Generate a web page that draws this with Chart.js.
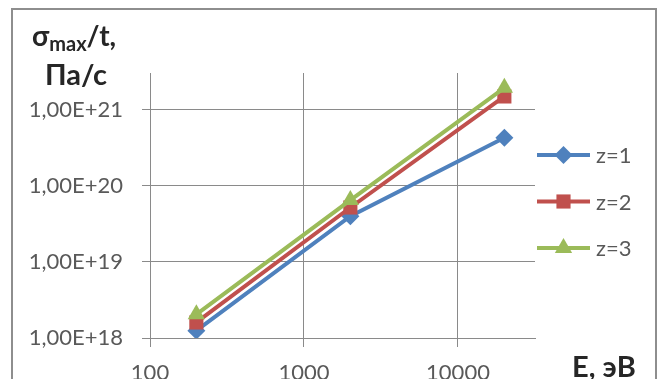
<!DOCTYPE html>
<html>
<head>
<meta charset="utf-8">
<script src="https://cdn.jsdelivr.net/npm/chart.js@4.4.1/dist/chart.umd.min.js"></script>
<style>
  html, body { margin: 0; padding: 0; background: #fff; }
  #wrap { position: relative; width: 662px; height: 379px; overflow: hidden; }
  #c { position: absolute; left: 0; top: 0; }
  .ttl { position: absolute; font-family: Lato, sans-serif; font-weight: bold; color: #262626; white-space: nowrap; line-height: 1; }
  .ttl sub { font-size: 20px; vertical-align: -5px; line-height: 1; }
</style>
</head>
<body>
<div id="wrap">
  <canvas id="c" width="662" height="379"></canvas>
  <div class="ttl" id="yt1" style="left:32px; top:21px; font-size:28px;">σ<sub>max</sub>/t,</div>
  <div class="ttl" id="yt2" style="left:45px; top:59px; font-size:29px;">Па/с</div>
  <div class="ttl" id="xt" style="left:572px; top:351px; font-size:29px;">E, эВ</div>
</div>
<script>
// Ion energy, eV
const energies = [200, 2000, 20000];
// Stress growth rate sigma_max / t, Pa/s, for each ion charge
const z1 = [1.25e18, 4.0e19, 4.3e20];
const z2 = [1.6e18, 5.2e19, 1.5e21];
const z3 = [2.05e18, 6.5e19, 1.95e21];
const seriesNames = ['z=1', 'z=2', 'z=3'];
// Axis ticks
const xTickValues = [100, 1000, 10000];
const yTickValues = [1e18, 1e19, 1e20, 1e21];

const colors = ['#4F81BD', '#C0504D', '#9BBB59'];
const styles = ['rectRot', 'rect', 'triangle'];
const radii = [9, 10, 10];
const gridColor = '#8a8a8a';
const labelColor = '#595959';
const labelFont = { family: 'Lato, sans-serif', size: 22 };

function fmtExp(v) {
  return Number(v).toExponential(2).replace('.', ',').replace('e+', 'E+');
}

const datasets = [z1, z2, z3].map((vals, i) => ({
  label: seriesNames[i],
  data: energies.map((e, k) => ({ x: e, y: vals[k] })),
  borderColor: colors[i],
  backgroundColor: colors[i],
  borderWidth: 4,
  pointStyle: styles[i],
  pointRadius: radii[i],
  pointBorderWidth: 0,
  pointHoverRadius: radii[i],
  tension: 0,
  order: 3 - i
}));

// Outer frame of the chart
const framePlugin = {
  id: 'frame',
  beforeDraw(chart) {
    const ctx = chart.ctx;
    ctx.save();
    ctx.strokeStyle = '#8e8e8e';
    ctx.lineWidth = 2;
    ctx.strokeRect(12, 9, 644, 420);
    ctx.restore();
  }
};

// Legend: line sample with marker, then the series name
const legendPlugin = {
  id: 'lineLegend',
  afterDraw(chart) {
    const ctx = chart.ctx;
    ctx.save();
    chart.data.datasets.forEach((ds, i) => {
      const y = 155 + i * 46.5;
      ctx.strokeStyle = ds.borderColor;
      ctx.lineWidth = 4;
      ctx.beginPath();
      ctx.moveTo(537, y);
      ctx.lineTo(590, y);
      ctx.stroke();
      ctx.fillStyle = ds.backgroundColor;
      Chart.helpers.drawPoint(ctx, { pointStyle: ds.pointStyle, radius: ds.pointRadius, rotation: 0, borderWidth: 0 }, 563.5, y);
      ctx.fillStyle = labelColor;
      ctx.font = '22px Lato, sans-serif';
      ctx.textBaseline = 'middle';
      ctx.textAlign = 'left';
      ctx.fillText(ds.label, 596, y + 1);
    });
    ctx.restore();
  }
};

new Chart(document.getElementById('c'), {
  type: 'line',
  data: { datasets },
  plugins: [framePlugin, legendPlugin],
  options: {
    responsive: false,
    animation: false,
    layout: { padding: { top: 73, right: 127, left: 0, bottom: 0 } },
    plugins: { legend: { display: false }, tooltip: { enabled: false } },
    scales: {
      x: {
        type: 'logarithmic',
        min: 100,
        max: 31623,
        afterBuildTicks(scale) { scale.ticks = xTickValues.map(v => ({ value: v })); },
        afterFit(scale) { scale.height = 41; },
        grid: { color: gridColor, lineWidth: 1, tickLength: 9 },
        border: { color: gridColor, width: 1 },
        ticks: {
          autoSkip: false, maxRotation: 0, padding: 13,
          color: labelColor, font: labelFont,
          callback: v => String(v)
        }
      },
      y: {
        type: 'logarithmic',
        min: 1e18,
        max: 3.05e21,
        afterBuildTicks(scale) { scale.ticks = yTickValues.map(v => ({ value: v })); },
        afterFit(scale) { scale.width = 150; },
        grid: { color: gridColor, lineWidth: 1, tickLength: 8 },
        border: { color: gridColor, width: 1 },
        ticks: {
          autoSkip: false, padding: 19,
          color: labelColor, font: labelFont,
          callback: v => fmtExp(v)
        }
      }
    }
  }
});
</script>
</body>
</html>
